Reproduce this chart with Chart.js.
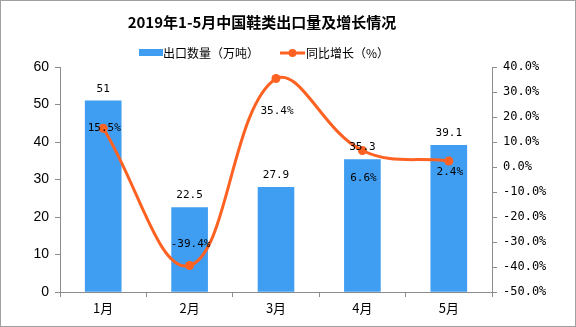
<!DOCTYPE html>
<html>
<head>
<meta charset="utf-8">
<script src="https://cdn.jsdelivr.net/npm/chart.js@4.4.1/dist/chart.umd.min.js"></script>
<style>
  html, body { margin: 0; padding: 0; background: #fff; }
  #c { display: block; }
</style>
</head>
<body>
<canvas id="c" width="576" height="327"></canvas>
<script>
const months = ["1月", "2月", "3月", "4月", "5月"];
const exportVolume = [51, 22.5, 27.9, 35.3, 39.1];
const yoyGrowth = [15.5, -39.4, 35.4, 6.6, 2.4];
const volumeTicks = [0, 10, 20, 30, 40, 50, 60];
const growthTicks = [-50, -40, -30, -20, -10, 0, 10, 20, 30, 40];

const TITLE = "2019年1-5月中国鞋类出口量及增长情况";
const BAR_LABEL = "出口数量（万吨）";
const LINE_LABEL = "同比增长（%）";

const BLUE = "#3f9ef2";
const ORANGE = "#fd6222";
const AXIS = "#8c8c8c";
const MONO = "'DejaVu Sans Mono', monospace";
const CJK = "'Noto Sans CJK SC', sans-serif";

// vertical shift of each growth label relative to its point (px, + is down)
const growthLabelShift = [0, -21, 33, 28, 11];

const decorPlugin = {
    id: "decor",
    beforeDraw(chart) {
        const ctx = chart.ctx;
        ctx.save();
        ctx.fillStyle = "#fff";
        ctx.fillRect(0, 0, chart.width, chart.height);
        ctx.strokeStyle = "#a0a0a0";
        ctx.lineWidth = 1;
        ctx.strokeRect(0.5, 0.5, chart.width - 1, chart.height - 1);

        // title
        ctx.fillStyle = "#000";
        ctx.font = "bold 15px " + CJK;
        ctx.textAlign = "center";
        ctx.textBaseline = "middle";
        ctx.fillText(TITLE, 262, 22);

        // legend
        ctx.font = "12px " + CJK;
        ctx.textAlign = "left";
        ctx.fillStyle = BLUE;
        ctx.fillRect(139, 49, 24, 7);
        ctx.fillStyle = "#000";
        ctx.fillText(BAR_LABEL, 163, 53);

        ctx.strokeStyle = ORANGE;
        ctx.lineWidth = 3;
        ctx.beginPath();
        ctx.moveTo(280, 53);
        ctx.lineTo(305, 53);
        ctx.stroke();
        ctx.fillStyle = ORANGE;
        ctx.beginPath();
        ctx.arc(292.5, 53, 4, 0, Math.PI * 2);
        ctx.fill();
        ctx.fillStyle = "#000";
        ctx.fillText(LINE_LABEL, 306, 53);
        ctx.restore();
    },
    afterDatasetsDraw(chart) {
        const ctx = chart.ctx;
        ctx.save();
        ctx.fillStyle = "#000";
        ctx.font = "11px " + MONO;
        ctx.textAlign = "center";
        ctx.textBaseline = "middle";

        chart.getDatasetMeta(0).data.forEach((bar, i) => {
            ctx.fillText(String(exportVolume[i]), bar.x, bar.y - 12);
        });
        chart.getDatasetMeta(1).data.forEach((pt, i) => {
            ctx.fillText(yoyGrowth[i].toFixed(1) + "%", pt.x + 1, pt.y + growthLabelShift[i]);
        });
        ctx.restore();
    }
};

new Chart(document.getElementById("c"), {
    data: {
        labels: months,
        datasets: [
            {
                type: "bar",
                label: BAR_LABEL,
                data: exportVolume,
                backgroundColor: BLUE,
                barThickness: 36,
                yAxisID: "y",
                order: 2
            },
            {
                type: "line",
                label: LINE_LABEL,
                data: yoyGrowth,
                borderColor: ORANGE,
                backgroundColor: ORANGE,
                borderWidth: 3,
                pointRadius: 4.5,
                pointBackgroundColor: ORANGE,
                pointBorderWidth: 0,
                tension: 0.4,
                yAxisID: "y1",
                order: 1
            }
        ]
    },
    options: {
        responsive: false,
        animation: false,
        devicePixelRatio: 1,
        layout: { padding: { top: 67, left: 0, right: 0, bottom: 0 } },
        plugins: {
            legend: { display: false },
            title: { display: false },
            tooltip: { enabled: false }
        },
        scales: {
            x: {
                offset: true,
                grid: { drawOnChartArea: false, drawTicks: true, tickLength: 5, color: AXIS, offset: true },
                border: { color: AXIS, width: 1 },
                ticks: { color: "#000", font: { family: CJK, size: 13 }, padding: 3 },
                afterFit(s) { s.height = 35; }
            },
            y: {
                position: "left",
                min: 0,
                max: 60,
                afterBuildTicks(s) { s.ticks = volumeTicks.map(v => ({ value: v })); },
                grid: { drawOnChartArea: false, tickLength: 5, color: AXIS },
                border: { color: AXIS, width: 1 },
                ticks: { color: "#000", font: { family: "'Liberation Sans', Arial", size: 14 }, padding: 6 },
                afterFit(s) { s.width = 60; }
            },
            y1: {
                position: "right",
                min: -50,
                max: 40,
                afterBuildTicks(s) { s.ticks = growthTicks.map(v => ({ value: v })); },
                grid: { drawOnChartArea: false, tickLength: 5, color: AXIS },
                border: { color: AXIS, width: 1 },
                ticks: {
                    color: "#000",
                    font: { family: MONO, size: 12 },
                    padding: 6,
                    callback: v => Number(v).toFixed(1) + "%"
                },
                afterFit(s) { s.width = 84; }
            }
        }
    },
    plugins: [decorPlugin]
});
</script>
</body>
</html>
